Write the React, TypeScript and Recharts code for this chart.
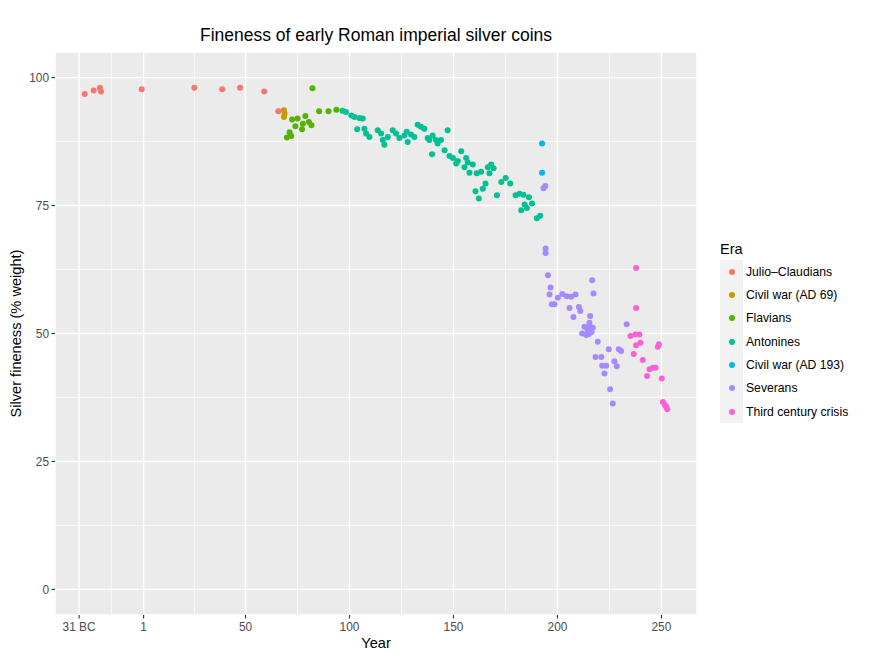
import React from 'react';
import {
  ScatterChart,
  Scatter,
  XAxis,
  YAxis,
  CartesianGrid,
  ReferenceLine,
  Legend,
  Label,
} from 'recharts';

const FONT = '"Liberation Sans", Arial, Helvetica, sans-serif';

const eraNames = [
  'Julio\u2013Claudians',
  'Civil war (AD 69)',
  'Flavians',
  'Antonines',
  'Civil war (AD 193)',
  'Severans',
  'Third century crisis',
];
const eraColors = ['#F8766D', '#C49A00', '#53B400', '#00C094', '#00B6EB', '#A58AFF', '#FB61D7'];

// [year, silver fineness %]
const julioClaudians = [
  [-27.3, 96.8], [-23.0, 97.5], [-20.0, 98.0], [-19.5, 97.3], [0.1, 97.7],
  [25.4, 98.0], [38.8, 97.7], [47.4, 98.0], [59.0, 97.3], [65.8, 93.4],
];
const civilWar69 = [[68.5, 93.6], [68.8, 93.0], [68.5, 92.3]];
const flavians = [
  [82.2, 97.9], [72.4, 91.8], [75.0, 92.0], [78.8, 92.5], [74.0, 90.5], [77.6, 91.0],
  [80.5, 91.3], [81.7, 90.7], [77.2, 89.9], [71.2, 89.3], [72.0, 88.6], [69.9, 88.3],
  [85.4, 93.4], [89.9, 93.4], [93.7, 93.7],
];
const antonines = [
  [96.6, 93.5], [98.3, 93.3], [100.9, 92.6], [102.4, 92.3], [104.8, 92.1], [106.4, 92.0],
  [103.7, 89.9], [107.2, 90.0], [108.0, 89.1], [109.6, 88.4], [113.6, 89.7], [115.2, 89.1],
  [116.0, 87.8], [116.8, 86.9], [118.4, 88.4], [120.8, 89.7], [122.4, 89.1], [124.0, 88.2],
  [126.4, 88.7], [127.5, 89.4], [128.0, 87.4], [129.6, 88.9], [131.2, 88.4], [132.8, 90.8],
  [134.4, 90.4], [136.0, 90.0], [137.6, 88.2], [138.4, 87.8], [140.0, 88.7], [141.6, 87.8],
  [142.4, 87.1], [144.0, 87.8], [147.2, 89.7], [139.7, 85.0], [145.7, 85.8], [148.1, 84.7],
  [149.7, 84.3], [153.7, 85.6], [151.3, 83.2], [152.1, 83.7], [156.1, 84.3], [156.9, 83.4],
  [155.3, 82.5], [157.7, 81.4], [159.3, 83.0], [161.2, 81.3], [163.3, 81.6], [166.5, 82.5],
  [168.1, 83.0], [169.3, 82.3], [167.3, 81.3], [160.6, 77.8], [162.2, 76.4], [164.1, 78.3],
  [165.4, 79.3], [170.9, 77.0], [173.0, 79.6], [175.1, 80.4], [177.3, 79.3], [179.9, 77.0],
  [181.8, 77.3], [183.7, 77.1], [186.3, 76.6], [184.2, 75.2], [182.6, 74.1], [185.3, 74.5],
  [187.8, 75.4], [190.1, 72.5], [191.7, 73.0],
];
const civilWar193 = [[192.6, 87.1], [192.6, 81.4]];
const severans = [
  [193.3, 78.4], [194.2, 78.8], [194.3, 66.6], [194.3, 65.7], [195.4, 61.4], [196.7, 59.0],
  [196.2, 57.6], [197.3, 55.7], [198.6, 55.7], [200.2, 57.0], [202.3, 57.7], [204.4, 57.3],
  [206.6, 57.2], [208.7, 57.6], [205.8, 55.0], [210.3, 55.2], [211.0, 54.4], [207.7, 53.2],
  [216.7, 60.4], [217.3, 57.8], [215.7, 53.4], [215.4, 52.1], [211.9, 50.0], [213.0, 51.3],
  [214.5, 50.7], [215.4, 51.5], [216.4, 50.3], [217.0, 51.1], [213.9, 49.7], [215.1, 49.9],
  [219.4, 48.4], [224.7, 46.9], [229.5, 46.9], [230.6, 46.6], [218.3, 45.4], [221.1, 45.4],
  [227.4, 44.6], [228.5, 43.6], [221.5, 43.7], [223.4, 43.7], [222.6, 42.2], [225.3, 39.1],
  [226.6, 36.3], [233.3, 51.8],
];
const thirdCenturyCrisis = [
  [237.8, 62.8], [237.8, 55.0], [235.1, 49.5], [237.5, 49.8], [239.4, 49.8], [237.8, 47.7],
  [239.9, 48.2], [236.7, 46.0], [248.3, 47.4], [248.8, 47.9], [241.0, 44.8], [244.3, 43.0],
  [245.9, 43.3], [247.2, 43.3], [243.1, 41.7], [250.2, 41.2], [250.7, 36.6], [251.5, 36.1],
  [252.3, 35.7], [252.8, 35.2],
];

const eraData = [julioClaudians, civilWar69, flavians, antonines, civilWar193, severans, thirdCenturyCrisis];

const xTicks = [-30, 1, 50, 100, 150, 200, 250];
const xTickLabels = ['31 BC', '1', '50', '100', '150', '200', '250'];
const xMinor = [-14.5, 25.5, 75, 125, 175, 225];
const yTicks = [0, 25, 50, 75, 100];
const yMinor = [12.5, 37.5, 62.5, 87.5];

const toPoints = (arr: number[][]) => arr.map(([year, fineness]) => ({ year, fineness }));

const renderLegend = () => (
  <div style={{ fontFamily: FONT, color: '#000' }}>
    <div style={{ fontSize: 14.6, lineHeight: '14.6px', height: 18.4 }}>Era</div>
    {eraNames.map((name, i) => (
      <div key={name} style={{ display: 'flex', alignItems: 'center', height: 23.33 }}>
        <div
          style={{
            width: 23.4,
            height: 23.33,
            background: '#F2F2F2',
            position: 'relative',
            boxSizing: 'border-box',
          }}
        >
          <div
            style={{
              position: 'absolute',
              left: 8.7,
              top: 8.67,
              width: 6,
              height: 6,
              borderRadius: 3,
              background: eraColors[i],
            }}
          />
        </div>
        <span style={{ marginLeft: 2.6, fontSize: 12.2, lineHeight: '14px' }}>{name}</span>
      </div>
    ))}
  </div>
);

const tickStyle = { fill: '#4D4D4D', fontSize: 11.9, fontFamily: FONT };

export default function App() {
  return (
    <div style={{ position: 'absolute', left: 0, top: 0, width: 881, height: 667, background: '#fff' }}>
      <div
        style={{
          position: 'absolute',
          left: 0,
          width: 752,
          top: 25,
          lineHeight: '20px',
          fontSize: 17.5,
          textAlign: 'center',
          fontFamily: FONT,
          color: '#000',
          zIndex: 2,
        }}
      >
        Fineness of early Roman imperial silver coins
      </div>
      <ScatterChart width={881} height={667} margin={{ top: 52, right: 184, bottom: 0, left: 0 }}>
        <CartesianGrid stroke="#FFFFFF" strokeWidth={1.4} fill="#EBEBEB" fillOpacity={1} />
        {xMinor.map((v) => (
          <ReferenceLine key={'xm' + v} x={v} stroke="#FFFFFF" strokeWidth={0.7} />
        ))}
        {yMinor.map((v) => (
          <ReferenceLine key={'ym' + v} y={v} stroke="#FFFFFF" strokeWidth={0.7} />
        ))}
        <XAxis
          type="number"
          dataKey="year"
          domain={[-41.6, 267.1]}
          allowDataOverflow
          ticks={xTicks}
          interval={0}
          tickFormatter={(v: number) => xTickLabels[xTicks.indexOf(v)] ?? String(v)}
          height={52}
          axisLine={false}
          tickLine={{ stroke: '#333333', strokeWidth: 1.1 }}
          tickSize={3.5}
          tickMargin={4}
          tick={tickStyle}
        >
          <Label
            content={(props: any) => {
              const vb = props.viewBox || { x: 55, y: 615, width: 642, height: 52 };
              return (
                <text
                  x={vb.x + vb.width / 2}
                  y={vb.y + 28}
                  textAnchor="middle"
                  dominantBaseline="central"
                  fontSize={14.6}
                  fontFamily={FONT}
                  fill="#000"
                >
                  Year
                </text>
              );
            }}
          />
        </XAxis>
        <YAxis
          type="number"
          dataKey="fineness"
          domain={[-5, 105]}
          allowDataOverflow
          ticks={yTicks}
          interval={0}
          width={55}
          axisLine={false}
          tickLine={{ stroke: '#333333', strokeWidth: 1.1 }}
          tickSize={3.5}
          tickMargin={2.5}
          tick={tickStyle}
        >
          <Label
            content={(props: any) => {
              const vb = props.viewBox || { x: 0, y: 52, width: 55, height: 563 };
              const x = vb.x + 15.5;
              const y = vb.y + vb.height / 2;
              return (
                <text
                  x={x}
                  y={y}
                  transform={`rotate(-90, ${x}, ${y})`}
                  textAnchor="middle"
                  dominantBaseline="central"
                  fontSize={14.6}
                  fontFamily={FONT}
                  fill="#000"
                >
                  Silver fineness (% weight)
                </text>
              );
            }}
          />
        </YAxis>
        {eraData.map((arr, i) => (
          <Scatter
            key={eraNames[i]}
            name={eraNames[i]}
            data={toPoints(arr)}
            fill={eraColors[i]}
            isAnimationActive={false}
            shape={(p: any) => <circle cx={p.cx} cy={p.cy} r={3} fill={eraColors[i]} />}
          />
        ))}
        <Legend
          layout="vertical"
          align="center"
          verticalAlign="middle"
          content={renderLegend}
          wrapperStyle={{ left: 720, top: 241.6, width: 160, lineHeight: 'normal' }}
        />
      </ScatterChart>
    </div>
  );
}
